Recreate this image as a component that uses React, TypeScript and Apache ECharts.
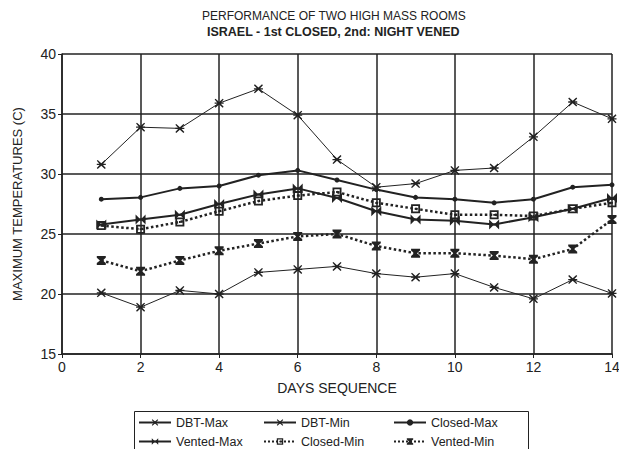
import React, { useEffect, useRef } from "react";
import * as echarts from "echarts";

const days = [1, 2, 3, 4, 5, 6, 7, 8, 9, 10, 11, 12, 13, 14];
const dbtMax = [30.8, 33.9, 33.8, 35.9, 37.1, 34.9, 31.2, 28.9, 29.2, 30.3, 30.5, 33.1, 36.0, 34.6];
const dbtMin = [20.1, 18.9, 20.3, 20.0, 21.8, 22.05, 22.3, 21.7, 21.4, 21.7, 20.55, 19.6, 21.2, 20.05];
const closedMax = [27.9, 28.05, 28.8, 29.0, 29.9, 30.3, 29.5, 28.7, 28.05, 27.9, 27.6, 27.9, 28.9, 29.1];
const ventedMax = [25.8, 26.2, 26.6, 27.5, 28.3, 28.8, 28.0, 26.9, 26.2, 26.1, 25.8, 26.4, 27.1, 28.0];
const closedMin = [25.7, 25.4, 26.0, 26.9, 27.75, 28.2, 28.5, 27.6, 27.1, 26.6, 26.6, 26.5, 27.1, 27.6];
const ventedMin = [22.8, 21.9, 22.8, 23.6, 24.2, 24.8, 25.0, 24.0, 23.4, 23.4, 23.2, 22.9, 23.75, 26.2];

const seriesNames = ["DBT-Max", "DBT-Min", "Closed-Max", "Vented-Max", "Closed-Min", "Vented-Min"];
const titleText = "PERFORMANCE OF TWO HIGH MASS ROOMS";
const subtitleText = "ISRAEL - 1st CLOSED, 2nd: NIGHT VENED";

const INK = "#222";
const FONT = "Liberation Sans, Arial, sans-serif";

const asterisk =
  "path://M1,0L5,3.6L9,0L10,1L6.4,5L10,9L9,10L5,6.4L1,10L0,9L3.6,5L0,1ZM0,4.3H10V5.7H0Z";
const bowtie = "path://M0,0L5,5L0,10ZM10,0L10,10L5,5ZM0,4H10V6H0Z";
const squareDot = "path://M0,0H10V10H0ZM2,2V8H8V2ZM4,4H6V6H4Z";
const hourglass = "path://M0,0H10V2L6.5,5L10,8V10H0V8L3.5,5L0,2Z";

function pairs(vals: number[]) {
  return days.map((d, i) => [d, vals[i]]);
}

export default function App() {
  const ref = useRef<HTMLDivElement>(null);
  useEffect(() => {
    if (!ref.current) return;
    const chart = echarts.init(ref.current, undefined, { renderer: "svg" });
    const mk = (
      name: string,
      vals: number[],
      symbol: string,
      size: number,
      width: number,
      type: "solid" | "dotted"
    ) => ({
      name,
      type: "line",
      data: pairs(vals),
      symbol,
      symbolSize: size,
      showAllSymbol: true,
      lineStyle: { color: INK, width, type },
      itemStyle: { color: INK, borderWidth: 0 },
      emphasis: { disabled: true },
    });
    const colX = [138, 263, 393];
    const rowY = [416, 435];
    const legends = seriesNames.map((n, i) => ({
      left: colX[i % 3],
      top: rowY[Math.floor(i / 3)],
      padding: 0,
      itemWidth: 32,
      itemHeight: 8,
      itemGap: 0,
      textStyle: { color: INK, fontSize: 12.5, fontFamily: FONT },
      selectedMode: false,
      data: [n],
    }));
    chart.setOption({
      animation: false,
      backgroundColor: "#fff",
      textStyle: { fontFamily: FONT },
      graphic: [
        {
          type: "text",
          left: 337 - 135,
          top: 10,
          style: {
            text: titleText,
            fill: INK,
            font: "12px " + FONT,
            width: 270,
            align: "center",
          },
        },
        {
          type: "text",
          left: 337 - 130,
          top: 25,
          style: {
            text: subtitleText,
            fill: INK,
            font: "bold 12.5px " + FONT,
            width: 260,
            align: "center",
          },
        },
        {
          type: "rect",
          shape: { x: 134.5, y: 411.5, width: 394, height: 41 },
          style: { fill: "none", stroke: INK, lineWidth: 1 },
          z: -1,
        },
      ],
      grid: { left: 62, right: 15, top: 54, bottom: 103, show: false },
      xAxis: {
        type: "value",
        min: 0,
        max: 14,
        interval: 2,
        name: "DAYS SEQUENCE",
        nameLocation: "middle",
        nameGap: 27,
        nameTextStyle: { color: INK, fontSize: 14 },
        axisLine: { show: true, lineStyle: { color: INK, width: 1.5 } },
        axisTick: { show: true, length: 4, lineStyle: { color: INK } },
        axisLabel: { color: INK, fontSize: 14, margin: 6 },
        splitLine: { show: true, lineStyle: { color: INK, width: 1.5 } },
      },
      yAxis: {
        type: "value",
        min: 15,
        max: 40,
        interval: 5,
        name: "MAXIMUM TEMPERATURES (C)",
        nameLocation: "middle",
        nameGap: 38,
        nameTextStyle: { color: INK, fontSize: 13 },
        axisLine: { show: true, lineStyle: { color: INK, width: 1.5 } },
        axisTick: { show: true, length: 4, lineStyle: { color: INK } },
        axisLabel: { color: INK, fontSize: 14, margin: 6 },
        splitLine: { show: true, lineStyle: { color: INK, width: 1.5 } },
      },
      legend: legends,
      series: [
        mk(seriesNames[0], dbtMax, asterisk, 9, 1, "solid"),
        mk(seriesNames[1], dbtMin, asterisk, 9, 1, "solid"),
        mk(seriesNames[2], closedMax, "circle", 5, 2, "solid"),
        mk(seriesNames[3], ventedMax, bowtie, 10, 2, "solid"),
        mk(seriesNames[4], closedMin, squareDot, 9, 2.5, "dotted"),
        mk(seriesNames[5], ventedMin, hourglass, 9, 2.5, "dotted"),
      ],
    });
    return () => chart.dispose();
  }, []);
  return <div ref={ref} style={{ width: 627, height: 457, margin: -8 }} />;
}
